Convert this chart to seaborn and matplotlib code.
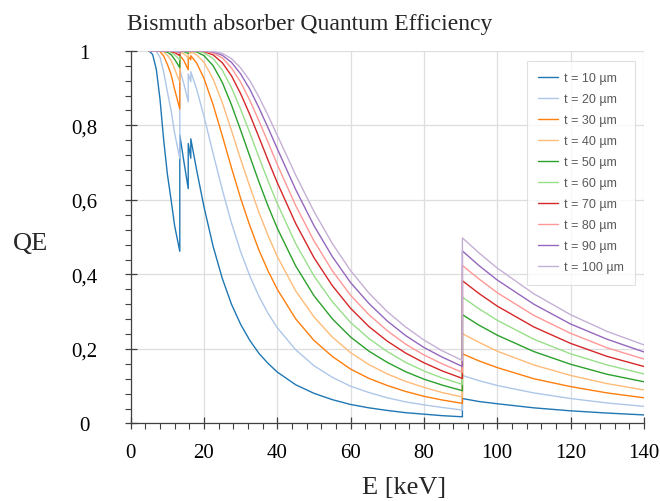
import matplotlib
matplotlib.use("Agg")
import matplotlib.pyplot as plt
import seaborn as sns
import pandas as pd
from matplotlib.ticker import MultipleLocator

# Energies (keV); the repeated values are the L3, L2, L1 and K absorption edges (below / above)
energy = [5, 6, 7, 8, 9, 10, 11, 12, 13.4, 13.4, 14.5, 15.7, 15.7, 16.4, 16.4, 18, 20,
          22.5, 25, 27.5, 30, 32.5, 35, 37.5, 40, 45, 50, 55, 60, 65, 70, 75, 80, 85,
          90.5, 90.5, 95, 100, 110, 120, 130, 140]

thickness = [10, 20, 30, 40, 50, 60, 70, 80, 90, 100]

qe_10 = [1.0, .990, .950, .870, .761, .670, .602, .530, .462, .774, .704, .630, .751, .712,
         .764, .680, .581, .475, .389, .320, .266, .223, .188, .161, .138, .104, .081, .064,
         .051, .042, .035, .029, .025, .021, .018, .067, .059, .053, .042, .034, .028, .023]
qe_20 = [1, 1, .998, .983, .943, .891, .841, .779, .711, .949, .912, .863, .938, .917,
         .944, .897, .824, .724, .627, .538, .461, .396, .341, .295, .257, .198, .155, .124,
         .100, .083, .069, .058, .050, .043, .036, .129, .115, .102, .082, .067, .055, .046]
qe_30 = [1, 1, 1, .998, .986, .964, .937, .896, .844, .988, .974, .949, .985, .976,
         .987, .967, .926, .855, .772, .686, .604, .531, .465, .409, .360, .281, .223, .180,
         .146, .121, .102, .086, .073, .063, .054, .187, .168, .150, .120, .099, .082, .069]
qe_40 = [1, 1, 1, 1, .997, .988, .975, .951, .916, .997, .992, .981, .996, .993,
         .997, .989, .969, .924, .861, .786, .709, .636, .566, .504, .448, .356, .286, .232,
         .190, .158, .133, .113, .097, .083, .071, .241, .218, .194, .157, .129, .107, .090]
qe_50 = [1, 1, 1, 1, .999, .996, .990, .977, .955, .999, .998, .993, .999, .998,
         .999, .997, .987, .960, .915, .855, .787, .717, .648, .583, .524, .423, .343, .281,
         .232, .194, .164, .139, .119, .103, .088, .292, .264, .237, .193, .159, .132, .112]
qe_60 = [1, 1, 1, 1, 1, .999, .996, .989, .976, 1, .999, .997, 1, .999,
         1, .999, .995, .979, .948, .901, .843, .780, .714, .650, .590, .483, .396, .327,
         .271, .228, .193, .164, .141, .122, .105, .339, .308, .277, .226, .187, .157, .133]
qe_70 = [1, 1, 1, 1, 1, 1, .998, .995, .987, 1, 1, .999, 1, 1,
         1, 1, .998, .989, .968, .933, .885, .829, .768, .706, .646, .537, .445, .370,
         .309, .260, .221, .189, .163, .141, .121, .383, .349, .315, .259, .215, .180, .153]
qe_80 = [1, 1, 1, 1, 1, 1, .999, .998, .993, 1, 1, 1, 1, 1,
         1, 1, .999, .994, .981, .954, .916, .867, .812, .754, .695, .585, .490, .410,
         .344, .292, .249, .213, .184, .160, .137, .424, .388, .351, .290, .242, .203, .173]
qe_90 = [1, 1, 1, 1, 1, 1, 1, .999, .996, 1, 1, 1, 1, 1,
         1, 1, 1, .997, .988, .969, .938, .897, .847, .793, .737, .628, .531, .448,
         .378, .322, .275, .236, .204, .178, .153, .463, .424, .385, .320, .267, .226, .192]
qe_100 = [1, 1, 1, 1, 1, 1, 1, .999, .998, 1, 1, 1, 1, 1,
          1, 1, 1, .998, .993, .979, .954, .920, .876, .826, .773, .667, .569, .483,
          .410, .350, .300, .259, .224, .195, .169, .498, .458, .417, .348, .292, .247, .211]

series = [qe_10, qe_20, qe_30, qe_40, qe_50, qe_60, qe_70, qe_80, qe_90, qe_100]

y_ticks = [0, 0.2, 0.4, 0.6, 0.8, 1.0]
y_tick_labels = ["0", "0,2", "0,4", "0,6", "0,8", "1"]
x_ticks = [0, 20, 40, 60, 80, 100, 120, 140]

# long format table for seaborn
rows = []
for t, qe in zip(thickness, series):
    for e, q in zip(energy, qe):
        rows.append({"E": e, "QE": q, "t": f"t = {t} µm"})
df = pd.DataFrame(rows)
labels = [f"t = {t} µm" for t in thickness]

sns.set_theme(style="white")
plt.rcParams["font.family"] = ["Liberation Serif", "DejaVu Serif"]

fig = plt.figure(figsize=(6.6, 5.02), dpi=100)
ax = fig.add_axes([0.198, 0.1544, 0.7775, 0.7424])

sns.lineplot(data=df, x="E", y="QE", hue="t", hue_order=labels,
             palette=sns.color_palette("tab20", 10), estimator=None, sort=False,
             lw=1.0, ax=ax)

ax.set_xlim(0, 140)
ax.set_ylim(0, 1)
ax.set_xticks(x_ticks)
ax.set_yticks(y_ticks)
ax.set_yticklabels(y_tick_labels)
ax.xaxis.set_minor_locator(MultipleLocator(4))
ax.yaxis.set_minor_locator(MultipleLocator(0.04))

ax.grid(True, which="major", color="#dedede", lw=0.9)
for side in ["top", "right"]:
    ax.spines[side].set_visible(False)
for side in ["left", "bottom"]:
    ax.spines[side].set_color("#404040")
    ax.spines[side].set_linewidth(0.9)

ax.tick_params(which="major", direction="inout", length=8, width=0.9, color="#404040",
               labelsize=15, labelcolor="black", bottom=True, left=True)
ax.tick_params(which="minor", direction="out", length=4, width=0.8, color="#404040",
               bottom=True, left=True)
ax.tick_params(axis="y", which="major", pad=29.5)
ax.tick_params(axis="x", which="major", pad=10)
plt.setp(ax.get_yticklabels(), ha="center")

ax.set_xlabel("E [keV]", fontsize=19)
ax.xaxis.set_label_coords(0.532, -0.142)
ax.set_ylabel("QE", fontsize=19, rotation=0, ha="center", va="center")
ax.yaxis.set_label_coords(-0.195, 0.485)

ax.set_title("Bismuth absorber Quantum Efficiency", fontsize=17, loc="left",
             x=-0.007, y=1.058, pad=0)

handles, labs = ax.get_legend_handles_labels()
leg = ax.legend(handles, labs, loc="upper left", bbox_to_anchor=(0.772, 0.9726),
                borderaxespad=0, frameon=True, fancybox=False, edgecolor="#d9d9d9",
                handlelength=1.6, handletextpad=0.45, labelspacing=0.72, borderpad=0.9,
                prop={"family": "Liberation Sans", "size": 9})
leg.get_frame().set_linewidth(0.8)
for txt in leg.get_texts():
    txt.set_color("#595959")

fig.savefig("out.png", dpi=100)
